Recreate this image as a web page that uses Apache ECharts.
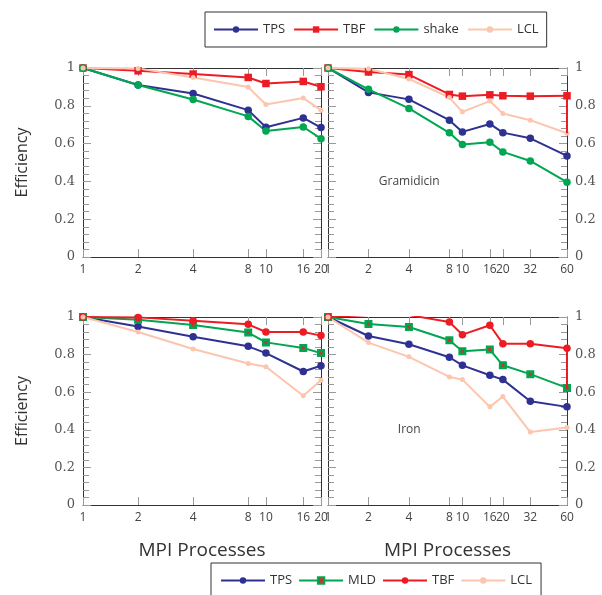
<!DOCTYPE html>
<html>
<head>
<meta charset="utf-8">
<script src="https://cdn.jsdelivr.net/npm/echarts@6/dist/echarts.min.js"></script>
<style>html,body{margin:0;padding:0;background:#fff}#c{width:602px;height:595px}</style>
</head>
<body>
<div id="c"></div>
<script>
// ---- data ----
const xLeft = [1, 2, 4, 8, 10, 16, 20];
const xRight = [1, 2, 4, 8, 10, 16, 20, 32, 60];
const yTicks = [0, 0.2, 0.4, 0.6, 0.8, 1];

// top-left panel
const tlTPS   = [1, 0.910, 0.865, 0.777, 0.687, 0.736, 0.685];
const tlTBF   = [1, 0.985, 0.968, 0.950, 0.918, 0.929, 0.901];
const tlShake = [1, 0.910, 0.833, 0.744, 0.667, 0.688, 0.626];
const tlLCL   = [1, 0.998, 0.950, 0.899, 0.807, 0.841, 0.777];

// top-right panel (Gramidicin)
const trTPS   = [1, 0.871, 0.834, 0.724, 0.662, 0.704, 0.658, 0.628, 0.535];
const trTBF   = [1, 0.979, 0.965, 0.860, 0.851, 0.858, 0.853, 0.851, 0.853];
const trShake = [1, 0.887, 0.786, 0.657, 0.595, 0.607, 0.556, 0.508, 0.396];
const trLCL   = [1, 0.996, 0.942, 0.844, 0.768, 0.825, 0.759, 0.724, 0.655];

// bottom-left panel
const blTPS = [1, 0.950, 0.895, 0.844, 0.808, 0.710, 0.741];
const blMLD = [1, 0.986, 0.957, 0.917, 0.865, 0.835, 0.808];
const blTBF = [1, 0.998, 0.980, 0.961, 0.920, 0.920, 0.901];
const blLCL = [1, 0.920, 0.830, 0.753, 0.735, 0.581, 0.664];

// bottom-right panel (Iron)
const brTPS = [1, 0.899, 0.855, 0.786, 0.743, 0.690, 0.667, 0.552, 0.522];
const brMLD = [1, 0.963, 0.947, 0.876, 0.818, 0.827, 0.743, 0.696, 0.623];
const brTBF = [1, 1.010, 1.010, 0.973, 0.906, 0.956, 0.858, 0.858, 0.834];
const brLCL = [1, 0.864, 0.788, 0.681, 0.667, 0.522, 0.577, 0.388, 0.412];

const topLegend = ['TPS', 'TBF', 'shake', 'LCL'];
const bottomLegend = ['TPS', 'MLD', 'TBF', 'LCL'];
const panelLabels = ['', 'Gramidicin', '', 'Iron'];

// ---- styles ----
const C_TPS = '#2e3192', C_TBF = '#ed1c24', C_GRN = '#00a651', C_LCL = '#fcc5ae';
const TICK = '#9a9a9a', AXIS = '#333';

const grids = [
  {left: 83, top: 68, width: 238, height: 189},
  {left: 328, top: 68, width: 239, height: 189},
  {left: 83, top: 317, width: 238, height: 188},
  {left: 328, top: 317, width: 239, height: 188}
];

const xAxes = [], yAxes = [];
grids.forEach((g, i) => {
  const isRight = i % 2 === 1;
  const isBottom = i >= 2;
  const xs = isRight ? xRight : xLeft;
  const xmax = xs[xs.length - 1];
  xAxes.push({
    type: 'log', logBase: 2, gridIndex: i, min: 1, max: xmax, position: 'bottom',
    axisLine: {show: true, onZero: false, lineStyle: {color: AXIS, width: 1}},
    axisTick: {show: true, inside: true, length: 8, customValues: xs, lineStyle: {color: TICK}},
    axisLabel: {show: true, customValues: xs, margin: 7, color: '#444', fontFamily: 'Open Sans', fontSize: 12},
    splitLine: {show: false}, minorTick: {show: false},
    name: isBottom ? 'MPI Processes' : '', nameLocation: 'middle', nameGap: 36,
    nameTextStyle: {fontFamily: 'Open Sans', fontSize: 19, color: '#333'}
  });
  xAxes.push({
    type: 'log', logBase: 2, gridIndex: i, min: 1, max: xmax, position: 'top',
    axisLine: {show: true, onZero: false, lineStyle: {color: AXIS, width: 1}},
    axisTick: {show: true, inside: true, length: 8, customValues: xs, lineStyle: {color: TICK}},
    axisLabel: {show: false, customValues: xs},
    splitLine: {show: false}
  });
  yAxes.push({
    type: 'value', gridIndex: i, min: 0, max: 1, interval: 0.2, position: 'left',
    axisLine: {show: true, onZero: false, lineStyle: {color: AXIS, width: 1}},
    axisTick: {show: true, inside: true, length: 8, lineStyle: {color: TICK}},
    minorTick: {show: true, splitNumber: 5, length: 6, lineStyle: {color: TICK}},
    axisLabel: {show: !isRight, margin: 8, color: '#555', fontFamily: 'DejaVu Serif', fontSize: 13},
    splitLine: {show: false},
    name: isRight ? '' : 'Efficiency', nameLocation: 'middle', nameRotate: 90, nameGap: 53,
    nameTextStyle: {fontFamily: 'Open Sans', fontSize: 16, color: '#333'}
  });
  yAxes.push({
    type: 'value', gridIndex: i, min: 0, max: 1, interval: 0.2, position: 'right',
    axisLine: {show: true, onZero: false, lineStyle: {color: AXIS, width: 1}},
    axisTick: {show: true, inside: true, length: 8, lineStyle: {color: TICK}},
    minorTick: {show: true, splitNumber: 5, length: 6, lineStyle: {color: TICK}},
    axisLabel: {show: isRight, margin: 8, color: '#555', fontFamily: 'DejaVu Serif', fontSize: 13},
    splitLine: {show: false}
  });
});

function mk(name, xs, ys, panel, color, symbol, size, extra) {
  return Object.assign({
    type: 'line', name: name,
    xAxisIndex: panel * 2, yAxisIndex: panel * 2,
    data: xs.map((x, k) => [x, ys[k]]),
    symbol: symbol, symbolSize: size, showSymbol: true,
    lineStyle: {color: color, width: 2},
    itemStyle: {color: color},
    emphasis: {disabled: true},
    animation: false
  }, extra || {});
}

// stray vertical segment at the last x value, seen in the reference
function tailLine(xs, fromArr, toArr, color) {
  const xl = xs[xs.length - 1];
  return {
    silent: true, symbol: ['none', 'none'], label: {show: false},
    lineStyle: {color: color, width: 2, type: 'solid'},
    data: [[{coord: [xl, fromArr[fromArr.length - 1]]}, {coord: [xl, toArr[toArr.length - 1]]}]]
  };
}

const mldStyle = {itemStyle: {color: '#c0392b', borderColor: C_GRN, borderWidth: 2.5}};
const series = [
  mk('TPS', xLeft, tlTPS, 0, C_TPS, 'circle', 7.5),
  mk('TBF', xLeft, tlTBF, 0, C_TBF, 'rect', 7.5),
  mk('shake', xLeft, tlShake, 0, C_GRN, 'circle', 7.5),
  mk('LCL', xLeft, tlLCL, 0, C_LCL, 'circle', 5),

  mk('TPS', xRight, trTPS, 1, C_TPS, 'circle', 7.5),
  mk('TBF', xRight, trTBF, 1, C_TBF, 'rect', 7.5, {markLine: tailLine(xRight, trTBF, trLCL, C_TBF)}),
  mk('shake', xRight, trShake, 1, C_GRN, 'circle', 7.5),
  mk('LCL', xRight, trLCL, 1, C_LCL, 'circle', 5),

  mk('TPS-b', xLeft, blTPS, 2, C_TPS, 'circle', 7.5),
  mk('MLD-b', xLeft, blMLD, 2, C_GRN, 'rect', 5.5, mldStyle),
  mk('TBF-b', xLeft, blTBF, 2, C_TBF, 'circle', 7.5),
  mk('LCL-b', xLeft, blLCL, 2, C_LCL, 'circle', 5),

  mk('TPS-b', xRight, brTPS, 3, C_TPS, 'circle', 7.5),
  mk('MLD-b', xRight, brMLD, 3, C_GRN, 'rect', 5.5, mldStyle),
  mk('TBF-b', xRight, brTBF, 3, C_TBF, 'circle', 7.5, {markLine: tailLine(xRight, brTBF, brMLD, C_TBF)}),
  mk('LCL-b', xRight, brLCL, 3, C_LCL, 'circle', 5)
];

const legendCommon = {
  orient: 'horizontal', itemWidth: 44, itemHeight: 8,
  borderColor: '#333', borderWidth: 1, borderRadius: 0,
  textStyle: {fontFamily: 'Open Sans', fontSize: 13, color: '#333'},
  selectedMode: false,
  formatter: n => n.replace('-b', '')
};

const option = {
  backgroundColor: '#fff',
  animation: false,
  grid: grids,
  xAxis: xAxes,
  yAxis: yAxes,
  legend: [
    Object.assign({}, legendCommon, {left: 205, top: 12, padding: [11, 8, 11, 8], itemGap: 8, data: topLegend}),
    Object.assign({}, legendCommon, {left: 211, top: 563, padding: [11, 9, 11, 9], itemGap: 6, data: bottomLegend.map(n => n + '-b')})
  ],
  graphic: panelLabels.map((t, i) => ({
    type: 'text',
    x: grids[i].left + grids[i].width * 0.34,
    y: grids[i].top + grids[i].height * 0.6,
    style: {text: t, fill: '#444', font: '12px "Open Sans"', textAlign: 'center', textVerticalAlign: 'middle'}
  })),
  series: series
};

const chart = echarts.init(document.getElementById('c'), null, {renderer: 'canvas'});
chart.setOption(option);
</script>
</body>
</html>
